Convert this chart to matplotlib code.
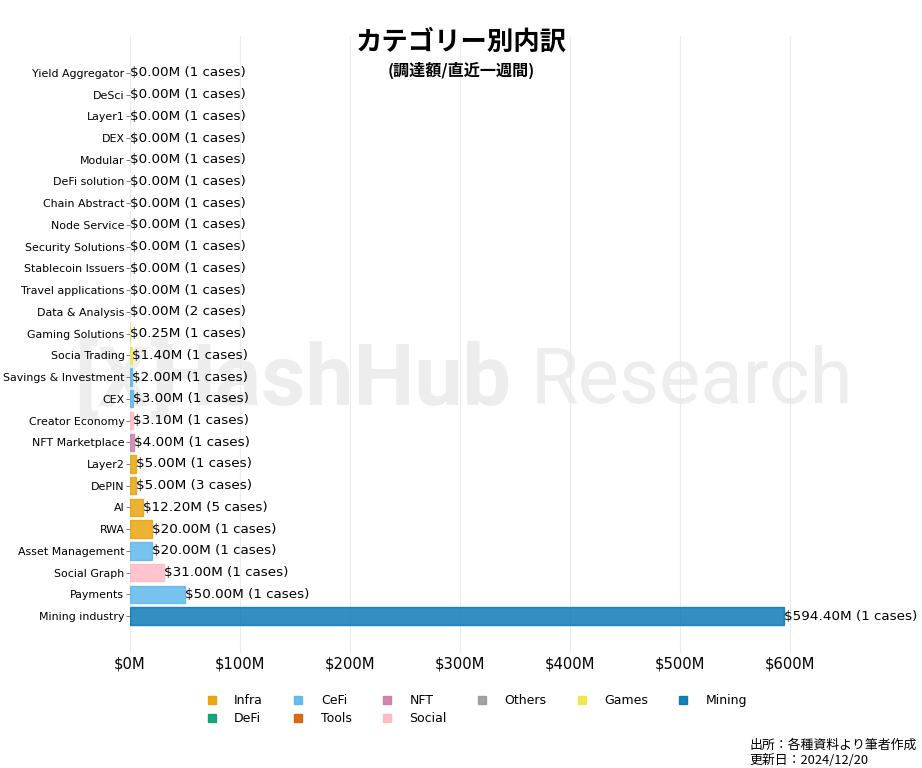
import matplotlib.pyplot as plt
from matplotlib.lines import Line2D

plt.rcParams["font.family"] = ["DejaVu Sans", "Noto Sans CJK JP"]

# categories from top to bottom
categories = [
    "Yield Aggregator", "DeSci", "Layer1", "DEX", "Modular", "DeFi solution",
    "Chain Abstract", "Node Service", "Security Solutions", "Stablecoin Issuers",
    "Travel applications", "Data & Analysis", "Gaming Solutions", "Socia Trading",
    "Savings & Investment", "CEX", "Creator Economy", "NFT Marketplace", "Layer2",
    "DePIN", "AI", "RWA", "Asset Management", "Social Graph", "Payments",
    "Mining industry",
]
amounts = [
    0.0, 0.0, 0.0, 0.0, 0.0, 0.0, 0.0, 0.0, 0.0, 0.0, 0.0, 0.0, 0.25, 1.40,
    2.00, 3.00, 3.10, 4.00, 5.00, 5.00, 12.20, 20.00, 20.00, 31.00, 50.00, 594.40,
]
cases = [1, 1, 1, 1, 1, 1, 1, 1, 1, 1, 1, 2, 1, 1, 1, 1, 1, 1, 1, 3, 5, 1, 1, 1, 1, 1]
groups = [
    "DeFi", "Others", "Infra", "DeFi", "Infra", "DeFi", "Infra", "Infra", "Tools",
    "DeFi", "Others", "Tools", "Games", "Games", "CeFi", "CeFi", "Social", "NFT",
    "Infra", "Infra", "Infra", "Infra", "CeFi", "Social", "CeFi", "Mining",
]

group_colors = {
    "Infra": "#E69F00",
    "DeFi": "#009E73",
    "CeFi": "#56B4E9",
    "Tools": "#D55E00",
    "NFT": "#CC79A7",
    "Social": "#FFB6C1",
    "Others": "#999999",
    "Games": "#F0E442",
    "Mining": "#0072B2",
}

fig = plt.figure(figsize=(9.22, 7.68), dpi=100)
ax = fig.add_axes([0.141, 0.150, 0.7446, 0.803])
ax.set_zorder(1)
ax.patch.set_alpha(0)

# watermark (behind the axes)
fig.text(0.08, 0.503, "[X]", fontsize=60, color="#eeeeee", fontweight="bold",
         va="center", ha="left", family="Roboto", zorder=0)
fig.text(0.168, 0.503, "HashHub", fontsize=62, color="#ededed", fontweight="bold",
         va="center", ha="left", family="Roboto", zorder=0)
fig.text(0.575, 0.503, "Research", fontsize=56, color="#ededed",
         va="center", ha="left", family="Roboto", zorder=0)

colors = [group_colors[g] for g in groups]
widths = [0 if a == 0 else 1.0 for a in amounts]
ax.barh(categories, amounts, color=colors, alpha=0.8, edgecolor=colors,
        linewidth=widths, zorder=2)
ax.invert_yaxis()

for i, (a, n) in enumerate(zip(amounts, cases)):
    ax.text(a, i, f"${a:.2f}M ({n} cases)", va="center", ha="left",
            fontsize=9.7, zorder=3)

ax.grid(axis="x", color="#e6e6e6", linewidth=0.8, zorder=4, alpha=0.8)
ax.grid(axis="y", visible=False)
for s in ax.spines.values():
    s.set_visible(False)
ax.set_xticks([0, 100, 200, 300, 400, 500, 600])
ax.set_xticklabels(["$0M", "$100M", "$200M", "$300M", "$400M", "$500M", "$600M"])
ax.tick_params(axis="x", length=0, labelsize=10.6, pad=3)
ax.tick_params(axis="y", length=3, width=0.6, color="#666666", labelsize=7.9, pad=1)

fig.text(0.5, 0.945, "カテゴリー別内訳", ha="center", va="center", fontsize=19,
         fontweight="bold", family=["Noto Sans CJK JP"])
fig.text(0.5, 0.909, "(調達額/直近一週間)", ha="center", va="center", fontsize=11.6,
         fontweight="bold", family=["Noto Sans CJK JP"])

handles = [
    Line2D([0], [0], marker="s", linestyle="none", markersize=5.5,
           color=group_colors[g], alpha=0.9, label=g)
    for g in group_colors
]
ax.legend(handles=handles, loc="center", bbox_to_anchor=(0.5, -0.0925), ncol=6,
          frameon=False, fontsize=9, labelspacing=0.4, columnspacing=1.82)

fig.text(0.813, 0.030, "出所：各種資料より筆者作成", fontsize=9.3,
         family=["Noto Sans CJK JP"], ha="left", va="center")
fig.text(0.813, 0.010, "更新日：2024/12/20", fontsize=9.3,
         family=["Noto Sans CJK JP"], ha="left", va="center")

fig.savefig("out.png", dpi=100)
